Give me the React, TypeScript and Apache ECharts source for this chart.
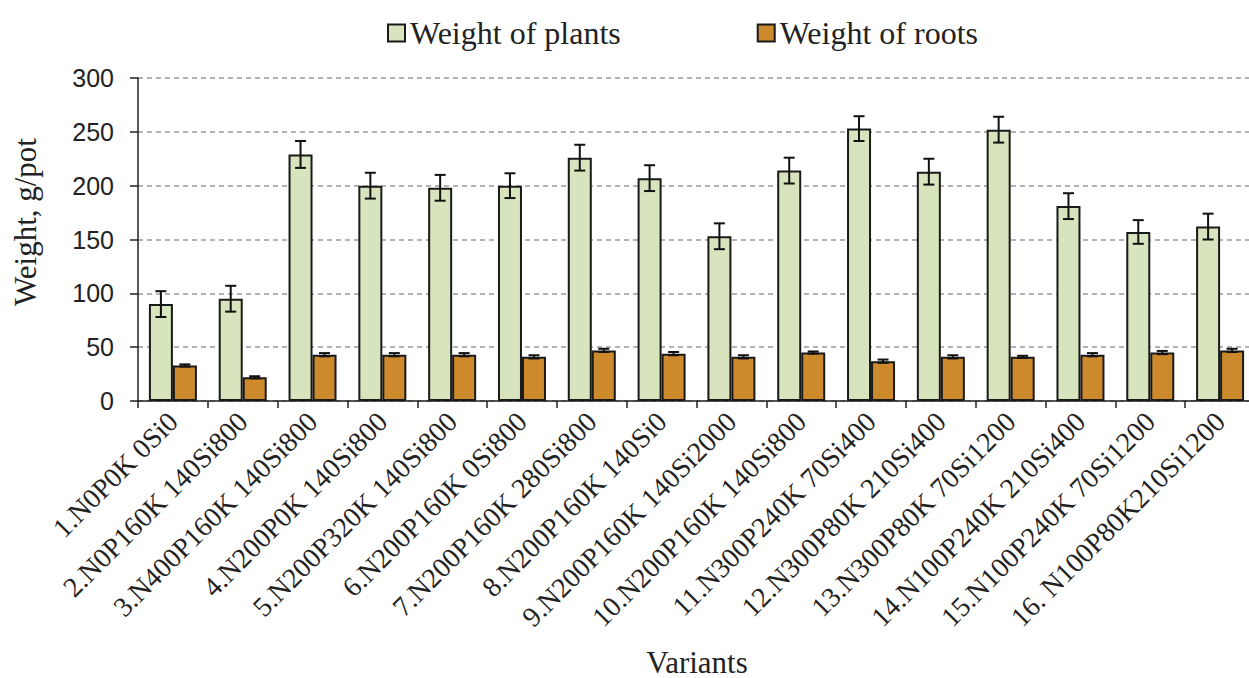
import React, { useEffect, useRef } from "react";
import * as echarts from "echarts";

const categories = [
  "1.N0P0K 0Si0",
  "2.N0P160K 140Si800",
  "3.N400P160K 140Si800",
  "4.N200P0K 140Si800",
  "5.N200P320K 140Si800",
  "6.N200P160K 0Si800",
  "7.N200P160K 280Si800",
  "8.N200P160K 140Si0",
  "9.N200P160K 140Si2000",
  "10.N200P160K 140Si800",
  "11.N300P240K 70Si400",
  "12.N300P80K 210Si400",
  "13.N300P80K 70Si1200",
  "14.N100P240K 210Si400",
  "15.N100P240K 70Si1200",
  "16. N100P80K210Si1200",
];
const plants = [90, 95, 229, 200, 198, 200, 226, 207, 153, 214, 253, 213, 252, 181, 157, 162];
const plantsErr = [12, 12, 12.5, 12, 12, 11.5, 12, 12, 12, 12, 11.5, 12, 12, 12, 11, 12];
const roots = [33, 22, 43, 43, 43, 41, 47, 44, 41, 45, 37, 41, 41, 43, 45, 47];
const rootsErr = [1, 1, 1.5, 1.5, 1.5, 1.5, 1.5, 1.5, 1.5, 1, 1.5, 1.5, 1, 1.5, 1.5, 1.5];
const yTicks = { min: 0, max: 300, interval: 50 };

const SERIF = "Liberation Serif";
const SANS = "Liberation Sans";

function errorSeries(values: number[], errs: number[], offset: number) {
  return {
    type: "custom",
    silent: true,
    z: 5,
    data: values.map((v, i) => [i, v - errs[i], v + errs[i]]),
    renderItem: (params: any, api: any) => {
      const idx = api.value(0);
      const lo = api.coord([idx, api.value(1)]);
      const hi = api.coord([idx, api.value(2)]);
      const x = lo[0] + offset;
      const cap = 5.5;
      const style = { stroke: "#111", lineWidth: 2 };
      return {
        type: "group",
        children: [
          { type: "line", shape: { x1: x, y1: lo[1], x2: x, y2: hi[1] }, style },
          { type: "line", shape: { x1: x - cap, y1: lo[1], x2: x + cap, y2: lo[1] }, style },
          { type: "line", shape: { x1: x - cap, y1: hi[1], x2: x + cap, y2: hi[1] }, style },
        ],
      };
    },
  };
}

export default function App() {
  const ref = useRef<HTMLDivElement>(null);
  useEffect(() => {
    document.body.style.margin = "0";
    const chart = echarts.init(ref.current!, null, { renderer: "svg" });
    const barW = 24;
    chart.setOption({
      animation: false,
      backgroundColor: "#fff",
      textStyle: { fontFamily: SERIF },
      legend: {
        data: ["Weight of plants", "Weight of roots"],
        left: 382,
        top: 12,
        itemWidth: 17,
        itemHeight: 17,
        itemGap: 136,
        icon: "rect",
        textStyle: { fontFamily: SERIF, fontSize: 32, color: "#222" },
      },
      grid: { left: 138, top: 78, width: 1117, height: 323, outerBoundsMode: "none", containLabel: false },
      xAxis: {
        type: "category",
        data: categories,
        axisLine: { lineStyle: { color: "#222", width: 1.5 } },
        axisTick: { show: true, length: 7, interval: 0, lineStyle: { color: "#222", width: 1.5 } },
        axisLabel: {
          interval: 0,
          rotate: 45,
          margin: 16,
          fontFamily: SERIF,
          fontSize: 28,
          color: "#222",
        },
      },
      yAxis: {
        type: "value",
        min: yTicks.min,
        max: yTicks.max,
        interval: yTicks.interval,
        axisLine: { show: true, lineStyle: { color: "#222", width: 1.5 } },
        axisTick: { show: true, length: 8, lineStyle: { color: "#222", width: 1.5 } },
        axisLabel: { fontFamily: SANS, fontSize: 25, color: "#222", margin: 24 },
        splitLine: { lineStyle: { color: "#9a9a9a", type: [5, 4], width: 1.5 } },
      },
      graphic: [
        {
          type: "text",
          x: 25,
          y: 222,
          rotation: Math.PI / 2,
          style: {
            text: "Weight, g/pot",
            fontFamily: SERIF,
            fontSize: 31,
            fill: "#222",
            textAlign: "center",
            textVerticalAlign: "middle",
          },
        },
        {
          type: "text",
          x: 697,
          y: 662,
          style: {
            text: "Variants",
            fontFamily: SERIF,
            fontSize: 31,
            fill: "#222",
            textAlign: "center",
            textVerticalAlign: "middle",
          },
        },
      ],
      series: [
        {
          name: "Weight of plants",
          type: "bar",
          data: plants,
          barWidth: barW,
          barGap: "0%",
          itemStyle: { color: "#D7E4BD", borderColor: "#1a1a1a", borderWidth: 2 },
        },
        {
          name: "Weight of roots",
          type: "bar",
          data: roots,
          barWidth: barW,
          barGap: "0%",
          itemStyle: { color: "#CC8A2C", borderColor: "#1a1a1a", borderWidth: 2 },
        },
        errorSeries(plants, plantsErr, -barW / 2),
        errorSeries(roots, rootsErr, barW / 2),
      ],
    });
    return () => chart.dispose();
  }, []);
  return <div ref={ref} style={{ width: 1249, height: 678 }} />;
}
